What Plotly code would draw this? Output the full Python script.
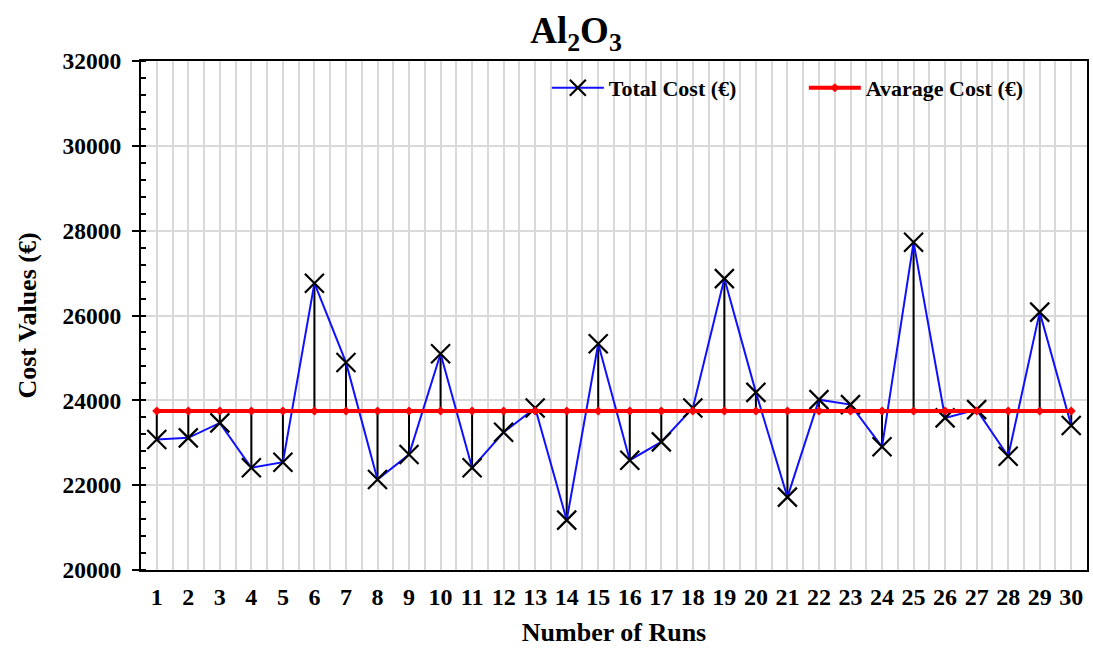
import plotly.graph_objects as go

# Run numbers and the total cost of each run (EUR)
runs = list(range(1, 31))
total_cost = [23075, 23115, 23468, 22409, 22541, 26762, 24894, 22134, 22722, 25099,
              22409, 23247, 23821, 21176, 25334, 22588, 23021, 23821, 26870, 24188,
              21718, 24016, 23899, 22904, 27727, 23586, 23781, 22682, 26080, 23405]
average_cost = 23750
x_tick_labels = [str(r) for r in runs]
y_ticks = [20000, 22000, 24000, 26000, 28000, 30000, 32000]

FONT = "Liberation Serif"

# vertical deviation lines from the average to each run's cost
dev_x, dev_y = [], []
for r, c in zip(runs, total_cost):
    dev_x += [r, r, None]
    dev_y += [average_cost, c, None]

fig = go.Figure()
fig.add_trace(go.Scatter(
    x=dev_x, y=dev_y, mode="lines",
    line=dict(color="black", width=2),
    showlegend=False, hoverinfo="skip",
))
fig.add_trace(go.Scatter(
    x=runs, y=total_cost, mode="lines+markers", name="Total Cost (€)",
    line=dict(color="#1010ff", width=2),
    marker=dict(symbol="x-thin", size=19, color="black",
                line=dict(color="black", width=2.2)),
))
fig.add_trace(go.Scatter(
    x=runs, y=[average_cost] * len(runs), mode="lines+markers",
    name="Avarage Cost (€)",
    line=dict(color="#ff0000", width=4),
    marker=dict(symbol="diamond", size=7, color="#ff0000"),
))

fig.update_layout(
    width=1093, height=648,
    margin=dict(l=141, r=6, t=61, b=78),
    paper_bgcolor="white", plot_bgcolor="white",
    font=dict(family=FONT, color="black", size=22, weight="bold"),
    title=dict(text="Al<sub>2</sub>O<sub>3</sub>", x=0.527, xref="container",
               y=0.953, yref="container", xanchor="center", yanchor="middle",
               font=dict(family=FONT, size=37, weight="bold", color="black")),
    showlegend=True,
    legend=dict(orientation="h", x=0.429, y=0.947, xanchor="left", yanchor="middle",
                font=dict(family=FONT, size=22, weight="bold"),
                bgcolor="rgba(0,0,0,0)", entrywidth=190, entrywidthmode="pixels",
                itemwidth=52),
)

fig.update_xaxes(
    range=[0.5, 30.5], automargin=False,
    tickmode="array", tickvals=runs, ticktext=x_tick_labels,
    tickfont=dict(family=FONT, size=24, weight="bold"),
    ticks="", ticklabelstandoff=4,
    showline=True, linecolor="black", linewidth=2, mirror=True,
    showgrid=True, gridcolor="#d9d9d9", gridwidth=1.5,
    minor=dict(tickmode="array", tickvals=[r + 0.5 for r in runs[:-1]],
               showgrid=True, gridcolor="#d9d9d9", gridwidth=1.5, ticks=""),
    zeroline=False,
    title=dict(text="Number of Runs", font=dict(family=FONT, size=26, weight="bold"),
               standoff=14),
)

fig.update_yaxes(
    range=[20000, 32000], automargin=False,
    tickmode="array", tickvals=y_ticks, ticktext=[str(v) for v in y_ticks],
    tickfont=dict(family=FONT, size=23.5, weight="bold"),
    ticks="outside", ticklen=7, tickwidth=2, tickcolor="black",
    ticklabelstandoff=6,
    showline=True, linecolor="black", linewidth=2, mirror=True,
    showgrid=True, gridcolor="#d9d9d9", gridwidth=1.5,
    minor=dict(dtick=400, ticks="inside", ticklen=5, tickwidth=1.5,
               tickcolor="black", showgrid=False),
    zeroline=False,
    title=dict(text="Cost Values (€)", font=dict(family=FONT, size=26, weight="bold"),
               standoff=18),
)

fig.write_html("out.html")
